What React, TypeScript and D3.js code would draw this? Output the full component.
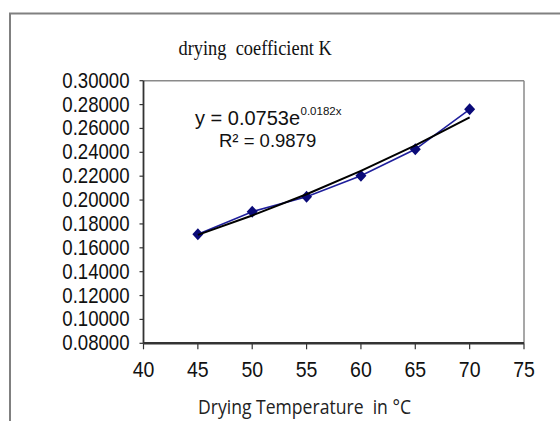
import React from "react";
import * as d3 from "d3";

const temps = [45, 50, 55, 60, 65, 70];
const kValues = [0.1713, 0.1903, 0.2028, 0.2204, 0.2425, 0.276];
const trendValues = [0.1708, 0.1871, 0.2049, 0.2244, 0.2458, 0.2692];
const xTicks = [40, 45, 50, 55, 60, 65, 70, 75];
const yTicks = [0.08, 0.1, 0.12, 0.14, 0.16, 0.18, 0.2, 0.22, 0.24, 0.26, 0.28, 0.3];
const titleText = "drying  coefficient K";
const xTitle = "Drying Temperature  in \u00B0C";
const eqMain = "y = 0.0753e";
const eqSup = "0.0182x";
const r2Text = "R\u00B2 = 0.9879";

const W = 560;
const H = 421;
const L = 143.5, R = 524, T = 80.7, B = 343.3;

export default function App() {
  const x = d3.scaleLinear().domain([40, 75]).range([L, R]);
  const y = d3.scaleLinear().domain([0.08, 0.3]).range([B, T]);
  const pts = temps.map((t, i) => [x(t), y(kValues[i])] as [number, number]);
  const tpts = temps.map((t, i) => [x(t), y(trendValues[i])] as [number, number]);
  const line = d3.line();
  const sans = "'Liberation Sans', Arial, sans-serif";
  return (
    <div style={{ position: "fixed", left: 0, top: 0 }}>
      <svg width={W} height={H} style={{ display: "block", background: "#fff" }}>
        <rect x={10} y={13.5} width={600} height={500} fill="#fff" stroke="#808080" strokeWidth={2} />
        <text
          transform={`translate(178.5,54.5) scale(1,1.12)`}
          fontFamily="'Liberation Serif', 'Times New Roman', serif"
          fontSize={18.4}
          fill="#111"
          style={{ whiteSpace: "pre" }}
        >
          {titleText}
        </text>
        {/* plot frame */}
        <line x1={L} y1={T} x2={R} y2={T} stroke="#8a8a8a" strokeWidth={1.5} />
        <line x1={R} y1={T} x2={R} y2={B} stroke="#8a8a8a" strokeWidth={1.5} />
        {/* y axis */}
        <line x1={L} y1={T} x2={L} y2={B} stroke="#333" strokeWidth={1.8} />
        {yTicks.map((v) => (
          <g key={v}>
            <line x1={L - 4} x2={L} y1={y(v)} y2={y(v)} stroke="#333" strokeWidth={1.2} />
            <text
              transform={`translate(129.5,${y(v) + 7}) scale(1,1.16)`}
              textAnchor="end"
              fontFamily={sans}
              fontSize={18.6}
              fill="#111"
            >
              {v.toFixed(5)}
            </text>
          </g>
        ))}
        {/* x axis */}
        <line x1={L} y1={B} x2={R} y2={B} stroke="#333" strokeWidth={2.5} />
        {xTicks.map((v) => (
          <g key={v}>
            <line x1={x(v)} x2={x(v)} y1={B} y2={B + 6} stroke="#333" strokeWidth={1.2} />
            <text
              transform={`translate(${x(v)},377) scale(1,1.15)`}
              textAnchor="middle"
              fontFamily={sans}
              fontSize={19.5}
              fill="#111"
            >
              {v}
            </text>
          </g>
        ))}
        <text
          transform="translate(198,414) scale(1,1.05)"
          fontFamily="'Open Sans', 'Noto Sans', sans-serif"
          fontSize={18.5}
          fill="#222"
          textLength={213}
          lengthAdjust="spacingAndGlyphs"
          style={{ whiteSpace: "pre" }}
        >
          {xTitle}
        </text>
        {/* series */}
        <path d={line(pts) || ""} fill="none" stroke="#1f1f9c" strokeWidth={1.6} />
        {pts.map((p, i) => (
          <path
            key={i}
            transform={`translate(${p[0]},${p[1]})`}
            d="M0,-6L5.5,0L0,6L-5.5,0Z"
            fill="#0a0a78"
          />
        ))}
        <path d={line(tpts) || ""} fill="none" stroke="#000" strokeWidth={2} />
        {/* equation */}
        <text x={195} y={125} fontFamily={sans} fontSize={20} fill="#111">
          {eqMain}
        </text>
        <text x={300.5} y={115} fontFamily={sans} fontSize={11.5} fill="#111">
          {eqSup}
        </text>
        <text x={219} y={147.3} fontFamily={sans} fontSize={18.5} fill="#111">
          {r2Text}
        </text>
      </svg>
    </div>
  );
}
